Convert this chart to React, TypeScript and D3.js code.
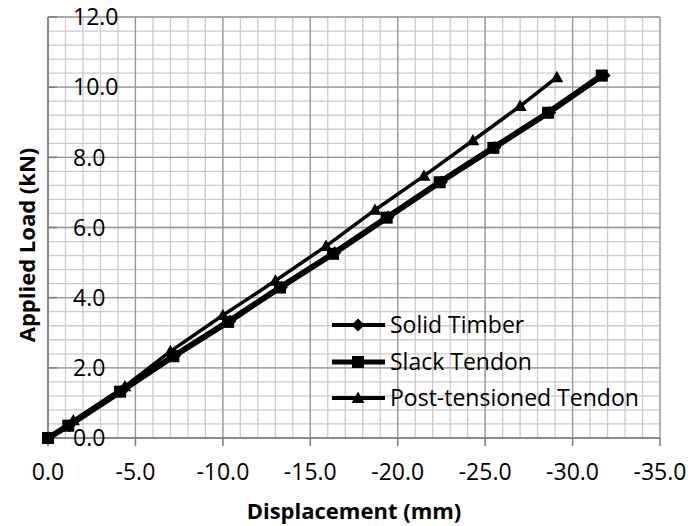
import React from "react";
import * as d3 from "d3";

const solidDisp = [0, -1.2, -4.2, -7.25, -10.4, -13.35, -16.4, -19.45, -22.5, -25.55, -28.7, -31.8];
const solidLoad = [0, 0.35, 1.33, 2.35, 3.33, 4.3, 5.28, 6.3, 7.3, 8.28, 9.28, 10.33];
const slackDisp = [0, -1.16, -4.12, -7.17, -10.3, -13.27, -16.3, -19.37, -22.4, -25.47, -28.6, -31.67];
const slackLoad = [0, 0.35, 1.32, 2.33, 3.31, 4.29, 5.25, 6.28, 7.29, 8.27, 9.27, 10.33];
const postDisp = [0, -1.45, -4.4, -7.0, -10.0, -13.0, -15.9, -18.7, -21.5, -24.3, -27.0, -29.1];
const postLoad = [0, 0.5, 1.47, 2.47, 3.5, 4.48, 5.47, 6.5, 7.47, 8.48, 9.46, 10.28];

const seriesNames = ["Solid Timber", "Slack Tendon", "Post-tensioned Tendon"];
const xTicks = [0, -5, -10, -15, -20, -25, -30, -35];
const yTicks = [0, 2, 4, 6, 8, 10, 12];

const FONT = "'Open Sans', sans-serif";

export default function App() {
  const x = d3.scaleLinear().domain([0, -35]).range([48, 660]);
  const y = d3.scaleLinear().domain([0, 12]).range([438, 17]);

  const minorX = d3.range(0, -35.5, -1);
  const minorY = d3.range(0, 12.01, 0.4);

  const line = d3
    .line<[number, number]>()
    .x((d) => x(d[0]))
    .y((d) => y(d[1]));

  const series = [
    { name: seriesNames[0], disp: solidDisp, load: solidLoad, width: 3.5, lw: 4, marker: "diamond" },
    { name: seriesNames[1], disp: slackDisp, load: slackLoad, width: 6, lw: 5, marker: "square" },
    { name: seriesNames[2], disp: postDisp, load: postLoad, width: 3.5, lw: 4, marker: "triangle" },
  ];

  const marker = (type: string, cx: number, cy: number, key: string) => {
    if (type === "square") {
      return <rect key={key} x={cx - 6} y={cy - 6} width={12} height={12} fill="#000" />;
    }
    if (type === "diamond") {
      const r = 6.5;
      return (
        <path key={key} d={`M${cx},${cy - r}L${cx + r},${cy}L${cx},${cy + r}L${cx - r},${cy}Z`} fill="#000" />
      );
    }
    const r = 6.5;
    return (
      <path
        key={key}
        d={`M${cx},${cy - r}L${cx + r},${cy + r * 0.75}L${cx - r},${cy + r * 0.75}Z`}
        fill="#000"
      />
    );
  };

  const legendY = [325, 362, 398];

  return (
    <svg
      width={691}
      height={526}
      style={{ position: "fixed", left: 0, top: 0, background: "#fff" }}
      fontFamily={FONT}
    >
      <rect width={691} height={526} fill="#fff" />
      {minorX.map((v, i) => (
        <line key={"mx" + i} x1={x(v)} x2={x(v)} y1={y(0)} y2={y(12)} stroke="#cccccc" strokeWidth={1.3} />
      ))}
      {minorY.map((v, i) => (
        <line key={"my" + i} x1={x(0)} x2={x(-35)} y1={y(v)} y2={y(v)} stroke="#cccccc" strokeWidth={1.3} />
      ))}
      {xTicks.map((v, i) => (
        <line key={"Mx" + i} x1={x(v)} x2={x(v)} y1={y(0)} y2={y(12)} stroke="#999999" strokeWidth={1.3} />
      ))}
      {yTicks.map((v, i) => (
        <line key={"My" + i} x1={x(0)} x2={x(-35)} y1={y(v)} y2={y(v)} stroke="#999999" strokeWidth={1.3} />
      ))}
      <line x1={x(0)} x2={x(0)} y1={y(0)} y2={y(12)} stroke="#808080" strokeWidth={1.6} />
      <line x1={x(0)} x2={x(-35)} y1={y(0)} y2={y(0)} stroke="#808080" strokeWidth={1.6} />
      {yTicks.map((v, i) => (
        <line key={"yt" + i} x1={x(0)} x2={x(0) + 9} y1={y(v)} y2={y(v)} stroke="#808080" strokeWidth={1.6} />
      ))}
      {xTicks.map((v, i) => (
        <line key={"xt" + i} x1={x(v)} x2={x(v)} y1={y(0)} y2={y(0) + 8} stroke="#808080" strokeWidth={1.6} />
      ))}
      {series.map((s, si) => {
        const pts: [number, number][] = s.disp.map((d, i) => [d, s.load[i]]);
        return (
          <g key={"s" + si}>
            <path d={line(pts) || ""} fill="none" stroke="#000" strokeWidth={s.width} strokeLinejoin="round" />
            {pts.map((p, i) => marker(s.marker, x(p[0]), y(p[1]), `m${si}-${i}`))}
          </g>
        );
      })}
      {yTicks.map((v, i) => (
        <text key={"yl" + i} x={73} y={y(v)} dy="0.36em" fontSize={23} fill="#000">
          {v.toFixed(1)}
        </text>
      ))}
      {xTicks.map((v, i) => (
        <text key={"xl" + i} x={x(v)} y={480} textAnchor="middle" fontSize={23} fill="#000">
          {v.toFixed(1)}
        </text>
      ))}
      <text x={354} y={519} textAnchor="middle" fontSize={22} fontWeight="bold" fill="#000">
        Displacement (mm)
      </text>
      <text
        transform={`translate(35,245) rotate(-90)`}
        textAnchor="middle"
        fontSize={22}
        fontWeight="bold"
        fill="#000"
      >
        Applied Load (kN)
      </text>
      {series.map((s, i) => (
        <g key={"lg" + i}>
          <line x1={332} x2={385} y1={legendY[i]} y2={legendY[i]} stroke="#000" strokeWidth={s.lw} />
          {marker(s.marker, 358, legendY[i], "lm" + i)}
          <text x={390} y={legendY[i]} dy="0.36em" fontSize={23} fill="#000">
            {s.name}
          </text>
        </g>
      ))}
    </svg>
  );
}
